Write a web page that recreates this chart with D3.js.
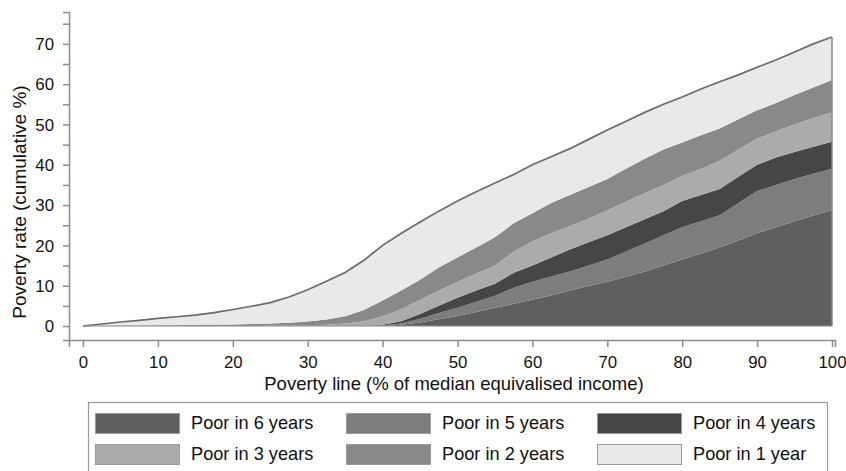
<!DOCTYPE html>
<html>
<head>
<meta charset="utf-8">
<script src="https://cdn.jsdelivr.net/npm/d3@7/dist/d3.min.js"></script>
<style>
  html, body { margin: 0; padding: 0; background: #fff; }
  svg { display: block; font-family: "Liberation Sans", Arial, sans-serif; }
</style>
</head>
<body>
<svg id="chart" width="846" height="471"></svg>
<script>
// Poverty line (% of median equivalised income)
const povertyLine = [0,2.5,5,7.5,10,12.5,15,17.5,20,22.5,25,27.5,30,32.5,35,37.5,
  40,42.5,45,47.5,50,52.5,55,57.5,60,62.5,65,67.5,70,72.5,75,77.5,80,82.5,85,87.5,90,92.5,95,97.5,100];

// Share of population (percentage points) in each band
const poor6 = [0,0,0,0,0,0,0,0,0,0,0,0,0,0,0,0,
  0,0.3,0.9,1.7,2.5,3.5,4.5,5.5,6.5,7.6,8.8,9.9,11.0,12.2,13.5,15.0,16.5,18.0,19.5,21.2,23.0,24.5,26.0,27.4,28.8];
const poor5 = [0,0,0,0,0,0,0,0,0,0,0,0,0,0,0,0,
  0.1,0.3,0.9,1.5,2.0,2.5,3.0,4.0,4.5,4.7,4.7,5.1,5.5,6.3,7.0,7.5,8.0,8.0,8.0,9.3,10.5,10.5,10.5,10.4,10.2];
const poor4 = [0,0,0,0,0,0,0,0,0,0,0,0,0,0,0,0,
  0.2,0.6,1.2,1.8,2.5,2.8,3.0,3.7,4.0,4.7,5.5,5.8,6.0,6.0,6.0,6.0,6.5,6.5,6.5,6.5,6.5,6.8,6.7,6.7,6.7];
const poor3 = [0,0,0,0,0,0,0,0,0,0,0.1,0.1,0.2,0.3,0.6,1.2,
  2.1,3.0,3.5,3.8,4.0,4.2,4.5,5.3,6.0,6.0,5.8,5.9,6.2,6.3,6.5,6.5,6.3,6.5,7.0,6.8,6.5,6.5,6.8,7.1,7.3];
const poor2 = [0,0,0.1,0.1,0.2,0.2,0.3,0.3,0.4,0.5,0.5,0.7,0.9,1.3,1.8,2.8,
  3.9,4.6,5.0,5.7,6.0,6.5,7.0,7.0,7.0,7.5,7.7,7.8,7.8,8.2,8.5,8.8,8.2,8.3,8.0,7.5,7.0,7.0,7.3,7.6,8.0];
const poor1 = [0,0.5,0.9,1.3,1.7,2.1,2.4,3.0,3.7,4.4,5.2,6.4,7.9,9.5,10.9,12.3,
  13.7,14.2,14.3,14.0,14.0,13.8,13.5,12.1,12.0,11.5,11.5,11.8,12.1,11.8,11.5,11.2,11.3,11.5,11.6,11.0,10.7,10.7,10.7,10.8,10.7];

const seriesKeys = ["p6","p5","p4","p3","p2","p1"];
const seriesLabels = ["Poor in 6 years","Poor in 5 years","Poor in 4 years","Poor in 3 years","Poor in 2 years","Poor in 1 year"];
const seriesColors = ["#5f5f5f","#7d7d7d","#464646","#ababab","#898989","#e9e9e9"];
const xTicks = [0,10,20,30,40,50,60,70,80,90,100];
const yTicks = [0,10,20,30,40,50,60,70];
const yMinorTicks = [5,15,25,35,45,55,65,75];

const rows = povertyLine.map((x, i) => ({
  x, p6: poor6[i], p5: poor5[i], p4: poor4[i], p3: poor3[i], p2: poor2[i], p1: poor1[i]
}));

const svg = d3.select("#chart");
const x = d3.scaleLinear().domain([-1.87, 100.4]).range([69, 835]);
const y = d3.scaleLinear().domain([-3.47, 77.9]).range([340, 12]);

const stack = d3.stack().keys(seriesKeys);
const layers = stack(rows);

const area = d3.area()
  .x(d => x(d.data.x))
  .y0(d => y(d[0]))
  .y1(d => y(d[1]))
  .curve(d3.curveLinear);

svg.append("g").selectAll("path")
  .data(layers)
  .join("path")
  .attr("d", area)
  .attr("fill", (d, i) => seriesColors[i]);

// outline: top line, right edge, baseline
const topLayer = layers[layers.length - 1];
const topLine = d3.line().x(d => x(d.data.x)).y(d => y(d[1]));
svg.append("path")
  .attr("d", topLine(topLayer))
  .attr("fill", "none").attr("stroke", "#6a6a6a").attr("stroke-width", 1.7);
const lastPt = topLayer[topLayer.length - 1];
svg.append("line")
  .attr("x1", x(lastPt.data.x)).attr("x2", x(lastPt.data.x))
  .attr("y1", y(lastPt[1])).attr("y2", y(0))
  .attr("stroke", "#8a8a8a").attr("stroke-width", 1.5);
svg.append("line")
  .attr("x1", x(0)).attr("x2", x(100))
  .attr("y1", y(0)).attr("y2", y(0))
  .attr("stroke", "#8a8a8a").attr("stroke-width", 1.2);

// Axes
const axisColor = "#8c8c8c";
const yAxis = svg.append("g").attr("transform", `translate(${x.range()[0]},0)`)
  .call(d3.axisLeft(y).tickValues(yTicks).tickSize(6).tickPadding(9).tickFormat(d3.format("d")));
svg.append("g").attr("transform", `translate(${x.range()[0]},0)`)
  .call(d3.axisLeft(y).tickValues(yMinorTicks).tickSize(6).tickFormat(""))
  .call(g => g.select(".domain").remove());
const xAxis = svg.append("g").attr("transform", `translate(0,${y.range()[0]})`)
  .call(d3.axisBottom(x).tickValues(xTicks).tickSize(7).tickPadding(9).tickFormat(d3.format("d")));

svg.selectAll(".domain").attr("stroke", axisColor).attr("stroke-width", 1.5);
svg.selectAll(".tick line").attr("stroke", axisColor).attr("stroke-width", 1.5);
svg.selectAll(".tick text").attr("fill", "#111").style("font-size", "16.8px")
  .style("font-family", "'Liberation Sans', Arial, sans-serif");
yAxis.selectAll(".tick text").attr("dy", "0.34em");
xAxis.selectAll(".tick text").attr("dy", "0.71em");

// Axis titles
svg.append("text")
  .attr("x", 454).attr("y", 390)
  .attr("text-anchor", "middle")
  .attr("fill", "#111").style("font-size", "18.5px")
  .text("Poverty line (% of median equivalised income)");
svg.append("text")
  .attr("transform", "translate(26,202) rotate(-90)")
  .attr("text-anchor", "middle")
  .attr("fill", "#111").style("font-size", "19px")
  .text("Poverty rate (cumulative %)");

// Legend
const legend = svg.append("g");
legend.append("rect")
  .attr("x", 88.5).attr("y", 402.5).attr("width", 739).attr("height", 80)
  .attr("fill", "#fff").attr("stroke", "#9a9a9a").attr("stroke-width", 1.2);
const legendOrder = [0,1,2,3,4,5];
legendOrder.forEach((si, k) => {
  const col = k % 3, row = Math.floor(k / 3);
  const gx = 95 + col * 251, gy = 413 + row * 31;
  legend.append("rect")
    .attr("x", gx + 0.5).attr("y", gy + 0.5).attr("width", 84).attr("height", 20)
    .attr("fill", seriesColors[si]).attr("stroke", "#9a9a9a").attr("stroke-width", 1);
  legend.append("text")
    .attr("x", gx + 96).attr("y", gy + 10).attr("dy", "0.35em")
    .attr("fill", "#111").style("font-size", "18.2px")
    .text(seriesLabels[si]);
});
</script>
</body>
</html>
